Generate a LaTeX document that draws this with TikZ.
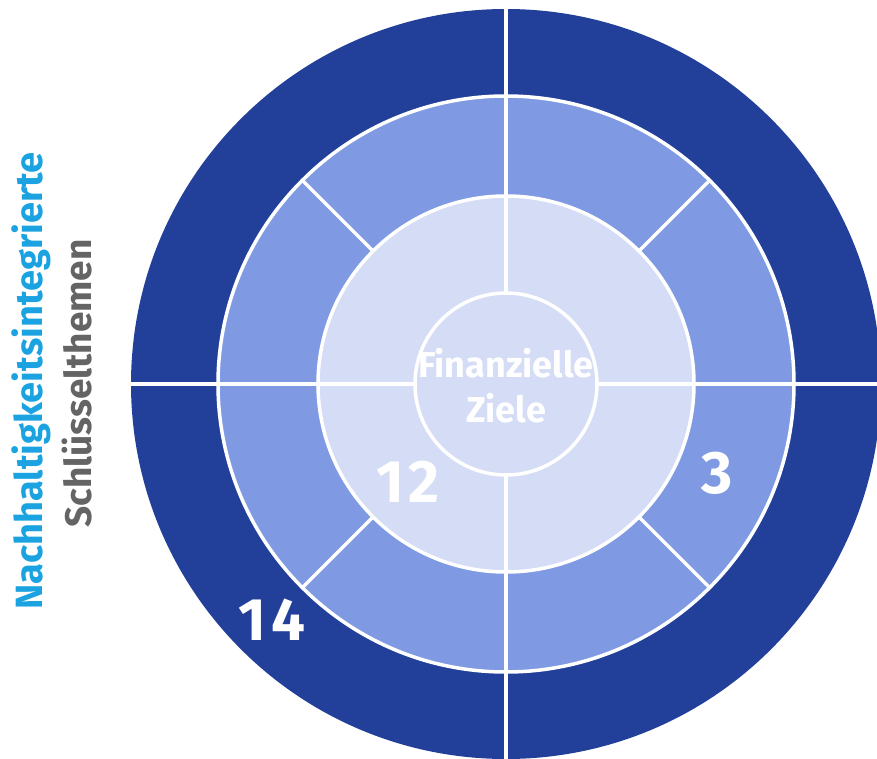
\documentclass[tikz,border=0pt]{standalone}
\usepackage{fontspec}
\newfontfamily\ff{Fira Sans}
\definecolor{outerc}{HTML}{22409A}
\definecolor{midc}{HTML}{7F9AE2}
\definecolor{innc}{HTML}{D5DCF5}
\definecolor{bluet}{HTML}{1AA3E0}
\definecolor{grayt}{HTML}{646464}
\tikzset{
  wl/.style={draw=white, line width=3.5pt},
  numlbl/.style={text=white, font=\ff\bfseries\fontsize{60}{60}\selectfont, anchor=base, inner sep=0pt},
  sidelbl/.style={font=\ff\bfseries\fontsize{38}{38}\selectfont, anchor=base west, inner sep=0pt, rotate=90},
}
\begin{document}
\begin{tikzpicture}[x=1pt,y=-1pt]
\useasboundingbox (0,0) rectangle (877,759);
\clip (0,0) rectangle (877,759);
\coordinate (c) at (506,384);
\fill[outerc] (c) circle (375pt);
\fill[midc] (c) circle (288pt);
\fill[innc] (c) circle (188pt);
\draw[wl] (c) circle (288pt) (c) circle (188pt) (c) circle (91pt);
\foreach \a in {45,135,225,315}
  \draw[wl] ([shift={(\a:188pt)}]c) -- ([shift={(\a:288pt)}]c);
\draw[wl] ([shift={(-91pt,0pt)}]c) -- ++(-400,0);
\draw[wl] ([shift={(91pt,0pt)}]c) -- ++(400,0);
\draw[wl] ([shift={(0pt,91pt)}]c) -- ++(0,-400);
\draw[wl] ([shift={(0pt,-91pt)}]c) -- ++(0,400);
\node[text=white, font=\ff\bfseries\fontsize{36}{45}\selectfont, align=center, anchor=base, inner sep=0pt] (fz) at (506,422) {Finanzielle\\Ziele};
\node[numlbl] (n12) at (408,502) {1\kern5pt2};
\node[numlbl] (n3) at (717,493) {3};
\node[numlbl] (n14) at (272,640) {1\kern5pt4};
\node[sidelbl, text=bluet] (t1) at (42,610) {Nachhaltigkeitsintegrierte};
\node[sidelbl, text=grayt, font=\ff\bfseries\fontsize{37}{37}\selectfont] (t2) at (91,528) {Schlüsselthemen};
\end{tikzpicture}
\end{document}
